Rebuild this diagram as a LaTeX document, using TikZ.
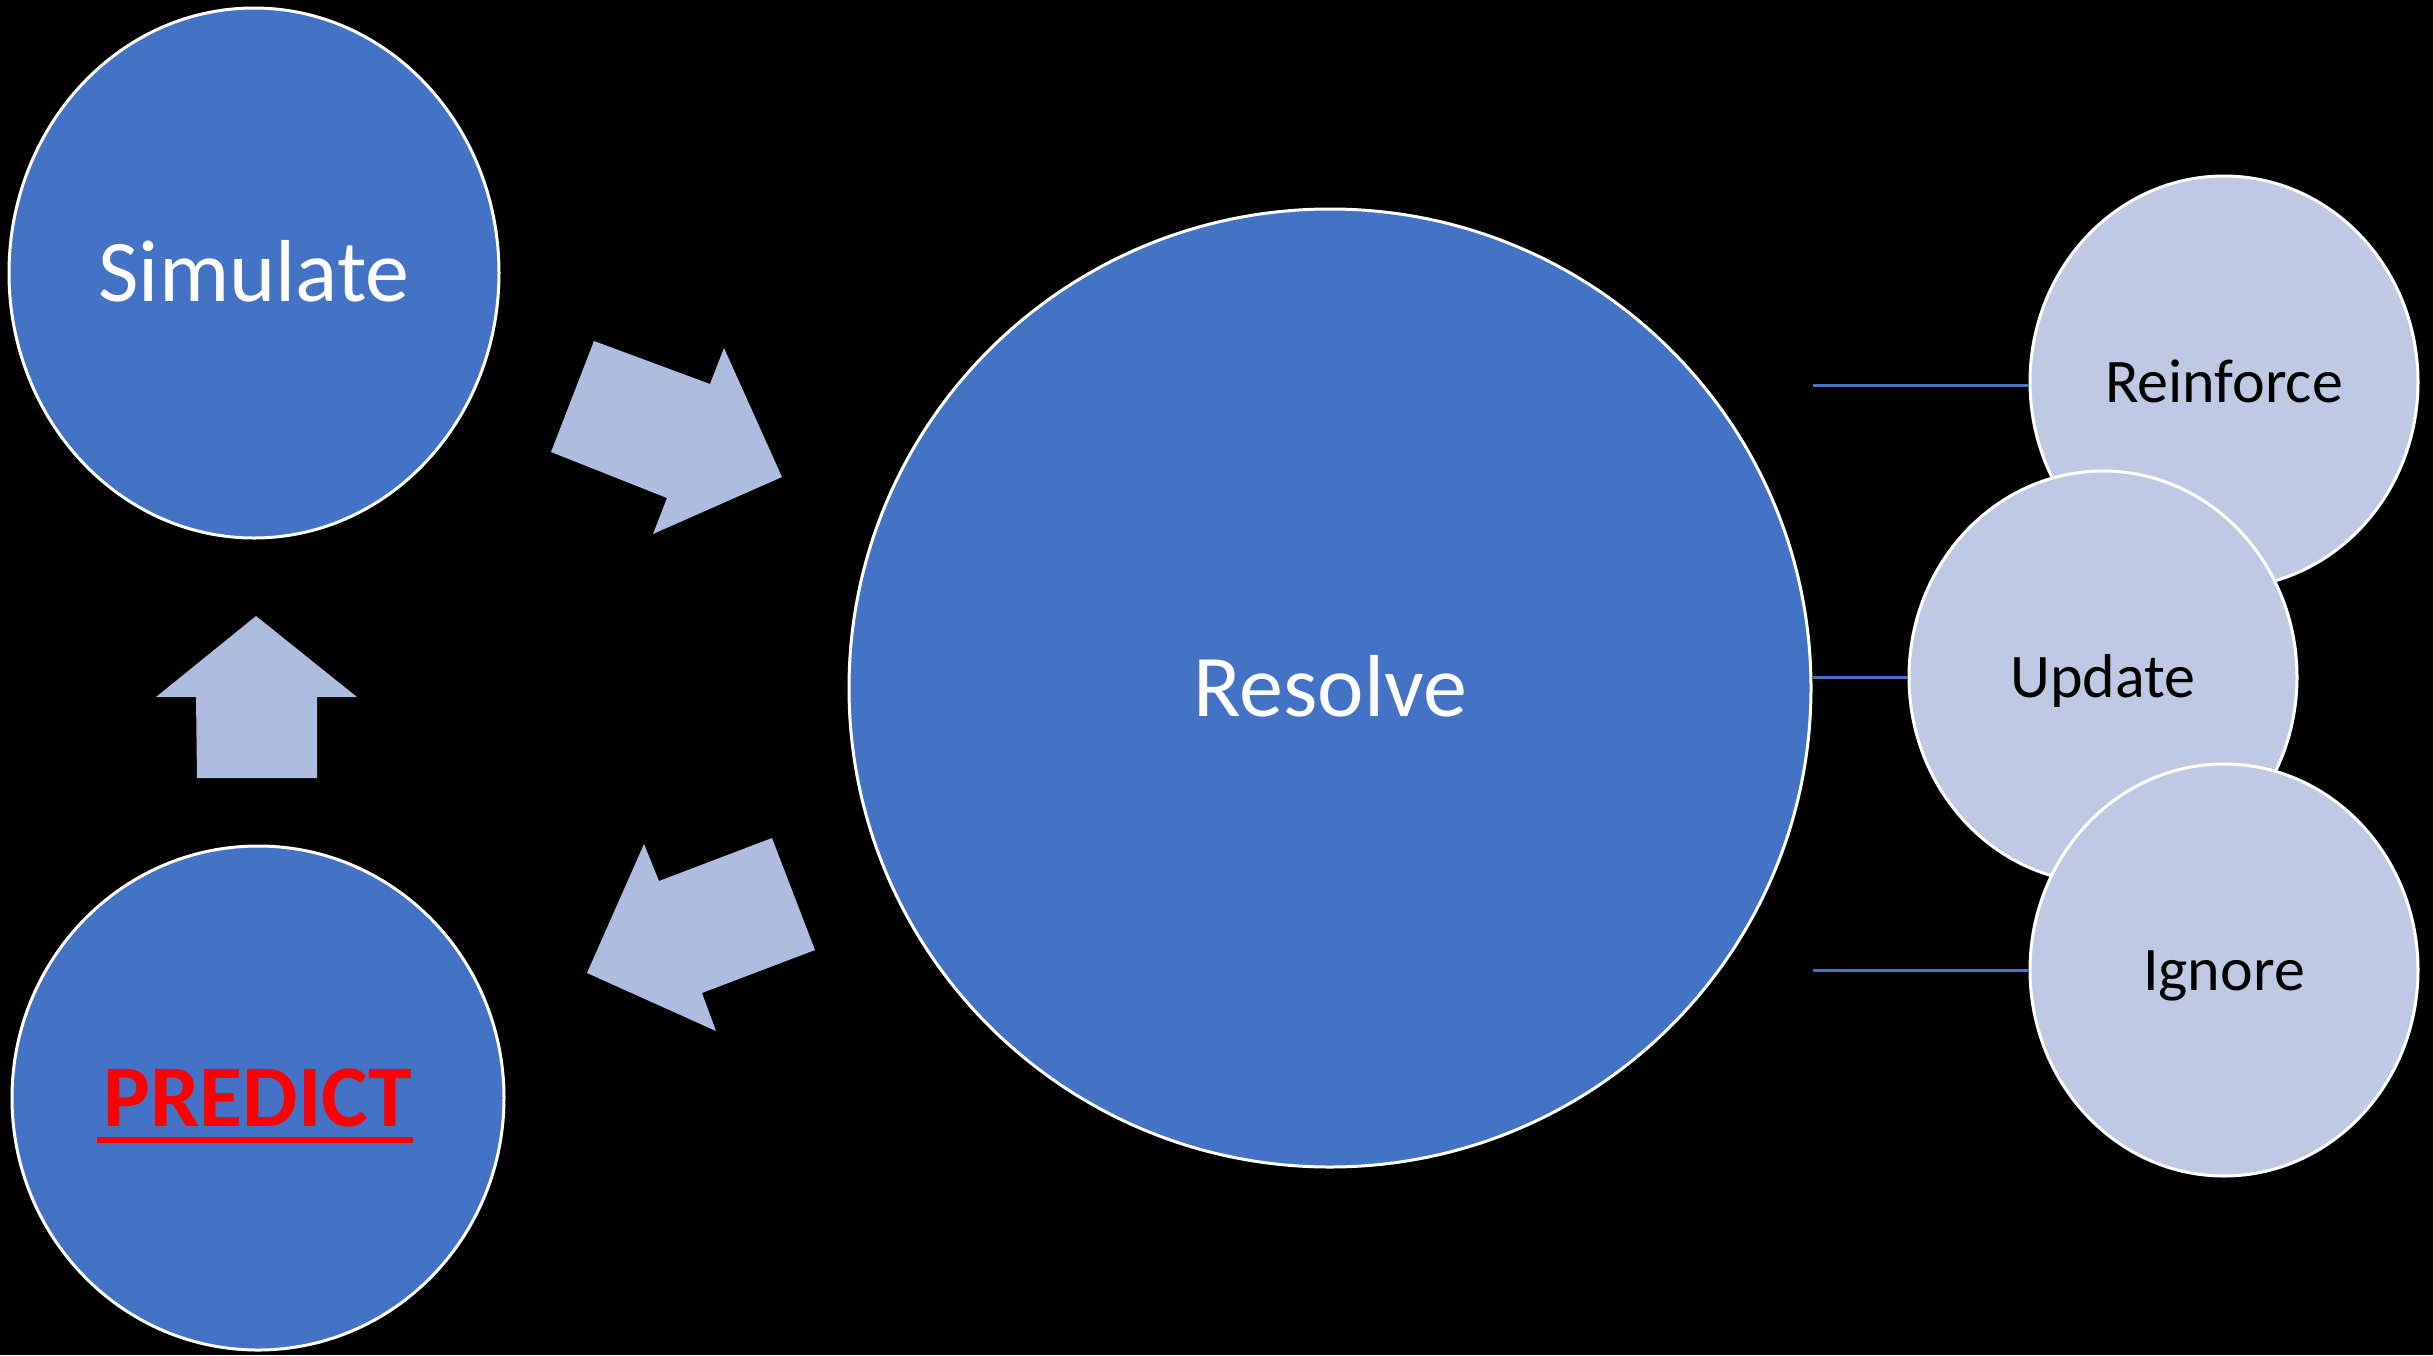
\documentclass[tikz,border=0pt]{standalone}
\usepackage{fontspec}
\setmainfont{Carlito}
\usetikzlibrary{shapes.geometric}
\definecolor{bigblue}{HTML}{4472C4}
\definecolor{arrowfill}{HTML}{AEBCDF}
\definecolor{smallfill}{HTML}{BFC9E4}
\definecolor{predred}{HTML}{FF0000}
\begin{document}
\begin{tikzpicture}[x=1pt,y=-1pt,
  bigcirc/.style={ellipse, draw=white, line width=3pt, fill=bigblue, inner sep=0pt,
    text=white, font=\fontsize{88}{100}\selectfont, text height=57pt, text depth=0pt},
  smallcirc/.style={ellipse, draw=white, line width=3pt, fill=smallfill, inner sep=0pt,
    text=black, minimum width=388pt, minimum height=412pt,
    font=\fontsize{62}{74}\selectfont, text height=40pt, text depth=0pt},
  link/.style={draw=bigblue, line width=3pt},
  blockarrow/.style={fill=arrowfill, draw=none}]
\fill[black] (0,0) rectangle (2433,1355);
\useasboundingbox (0,0) rectangle (2433,1355);

% main circles
\node[bigcirc, minimum width=490pt, minimum height=530pt] (simulate) at (254,273) {Simulate};
\node[bigcirc, minimum width=492pt, minimum height=504pt] (predict) at (258,1098) {};
\node[inner sep=0pt, font=\fontsize{88}{100}\selectfont\bfseries, text=predred,
      text height=57pt, text depth=0pt] (predicttext) at (predict.center) {PREDICT};
\draw[predred, line width=5.5pt] ([xshift=-6pt, yshift=-13.5pt]predicttext.base west)
      -- ([yshift=-13.5pt]predicttext.base east);
\node[bigcirc, minimum width=962pt, minimum height=958pt] (resolve) at (1330,688) {Resolve};

% block arrows
\fill[blockarrow] (594,341) -- (710,384) -- (724,348) -- (782,477) -- (653,534)
      -- (667,498) -- (551,452) -- cycle;
\fill[blockarrow] (772,838) -- (815,950) -- (702,993) -- (716,1031) -- (587,973)
      -- (644,844) -- (659,881) -- cycle;
\fill[blockarrow] (256,616) -- (357,697) -- (317,697) -- (317,778) -- (197,778)
      -- (196,697) -- (156,697) -- cycle;

% outcome circles
\node[smallcirc] (reinforce) at (2224,382) {Reinforce};
\node[smallcirc] (update) at (2103,677) {Update};
\node[smallcirc] (ignore) at (2224,970) {Ignore};

% connectors
\coordinate (rend) at ([yshift=-3pt]reinforce.west);
\coordinate (rstart) at (resolve.east |- rend);
\coordinate (ustart) at (resolve.east |- update.west);
\coordinate (istart) at (resolve.east |- ignore.west);
\draw[link] (rstart) -- (rend);
\draw[link] (ustart) -- (update.west);
\draw[link] (istart) -- (ignore.west);
\end{tikzpicture}
\end{document}
